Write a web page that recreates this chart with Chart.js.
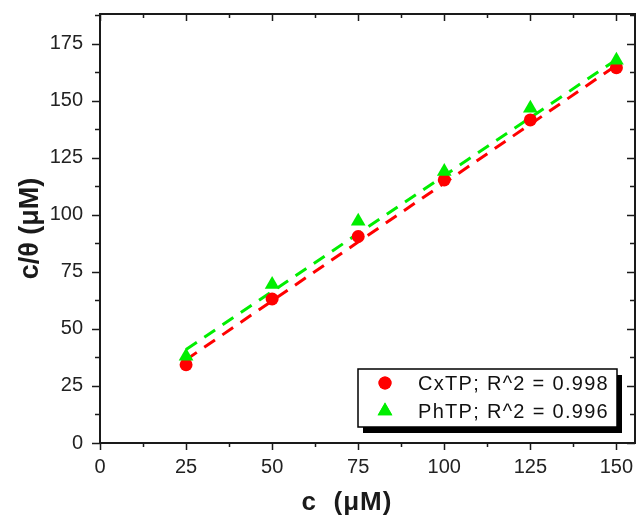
<!DOCTYPE html>
<html lang="en">
<head>
  <meta charset="UTF-8">
  <title>c/θ vs c</title>
  <script src="https://cdn.jsdelivr.net/npm/chart.js"></script>
  <style>
    html, body { margin: 0; padding: 0; background: #fff; }
    canvas { display: block; }
  </style>
</head>
<body>
  <canvas id="grafico" width="636" height="517"></canvas>

  <script>
    // valores
    const concentracoes = [25, 50, 75, 100, 125, 150];
    const cxtpValores = [34.3, 63.1, 90.5, 115.3, 141.6, 164.5];
    const phtpValores = [38, 69.5, 97.2, 119, 146.7, 167.7];

    // retas de ajuste (extremos)
    const ajusteX = [25, 150];
    const cxtpAjuste = [36.5, 165.5];
    const phtpAjuste = [41, 168];

    const nomesSeries = ['CxTP; R^2 = 0.998', 'PhTP; R^2 = 0.996'];
    const ticksX = [0, 25, 50, 75, 100, 125, 150];
    const ticksY = [0, 25, 50, 75, 100, 125, 150, 175];
    const tituloX = 'c  (\u03bcM)';
    const tituloY = 'c/\u03b8 (\u03bcM)';

    const VERMELHO = '#ff0000';
    const VERDE = '#00ee00';
    const PRETO = '#1a1a1a';

    const pares = (xs, ys) => xs.map((x, i) => ({ x: x, y: ys[i] }));

    // zera o padding que o Chart.js reserva para os rótulos
    const semPadding = s => {
      s.paddingTop = 0; s.paddingBottom = 0;
      s.paddingLeft = 0; s.paddingRight = 0;
    };

    // moldura, ticks maiores/menores nos quatro lados
    const molduraPlugin = {
      id: 'moldura',
      beforeDatasetsDraw(chart) {
        const { ctx, chartArea: a, scales } = chart;
        const sx = scales.x, sy = scales.y;
        ctx.save();
        ctx.strokeStyle = PRETO;
        ctx.lineWidth = 1.5;
        ctx.beginPath();
        for (let v = 0; v <= 150; v += 12.5) {
          const px = Math.round(sx.getPixelForValue(v)) + 0.5;
          const maior = v % 25 === 0;
          const l = maior ? 7 : 4;
          ctx.moveTo(px, a.bottom); ctx.lineTo(px, a.bottom + l);
          ctx.moveTo(px, a.top); ctx.lineTo(px, a.top + l);
        }
        for (let v = 0; v <= 187.5; v += 12.5) {
          const py = Math.round(sy.getPixelForValue(v)) + 0.5;
          const maior = v % 25 === 0;
          const l = maior ? 8 : 5;
          ctx.moveTo(a.left, py); ctx.lineTo(a.left - l, py);
          ctx.moveTo(a.right, py); ctx.lineTo(a.right - l, py);
        }
        ctx.stroke();
        ctx.lineWidth = 2;
        ctx.strokeRect(a.left, a.top, a.right - a.left, a.bottom - a.top);

        // título do eixo x
        ctx.fillStyle = PRETO;
        ctx.font = 'bold 26px "Liberation Sans", Arial, sans-serif';
        ctx.letterSpacing = '1px';
        ctx.textAlign = 'center';
        ctx.textBaseline = 'middle';
        ctx.fillText(tituloX, 347, 503);
        ctx.restore();
      },
      afterDraw(chart) {
        // legenda dentro da área do gráfico
        const { ctx } = chart;
        const bx = 358, by = 369, bw = 259, bh = 58;
        ctx.save();
        ctx.fillStyle = '#000';
        ctx.fillRect(bx + 5, by + 6, bw, bh);
        ctx.fillStyle = '#fff';
        ctx.fillRect(bx, by, bw, bh);
        ctx.strokeStyle = '#000';
        ctx.lineWidth = 1.5;
        ctx.strokeRect(bx, by, bw, bh);

        const linhas = [
          { y: 383, cor: VERMELHO, estilo: 'circle', r: 6.5, texto: chart.data.datasets[0].label },
          { y: 411, cor: VERDE, estilo: 'triangle', r: 8.5, texto: chart.data.datasets[1].label }
        ];
        linhas.forEach(l => {
          ctx.fillStyle = l.cor;
          Chart.helpers.drawPoint(ctx, { pointStyle: l.estilo, radius: l.r, borderWidth: 0 }, 385, l.y);
          ctx.fill();
          ctx.fillStyle = '#111';
          ctx.font = '20px "Liberation Sans", Arial, sans-serif';
          ctx.letterSpacing = '1.3px';
          ctx.textAlign = 'left';
          ctx.textBaseline = 'middle';
          ctx.fillText(l.texto, 418, l.y + 1);
        });
        ctx.restore();
      }
    };

    const fonteTicks = { family: '"Liberation Sans", Arial, sans-serif', size: 20 };

    new Chart(document.getElementById('grafico'), {
      type: 'scatter',
      data: {
        datasets: [
          {
            label: nomesSeries[0],
            data: pares(concentracoes, cxtpValores),
            pointStyle: 'circle',
            pointRadius: 6.5,
            pointBackgroundColor: VERMELHO,
            pointBorderWidth: 0,
            showLine: false,
            order: 1
          },
          {
            label: nomesSeries[1],
            data: pares(concentracoes, phtpValores),
            pointStyle: 'triangle',
            pointRadius: 8.5,
            pointBackgroundColor: VERDE,
            pointBorderWidth: 0,
            showLine: false,
            order: 0
          },
          {
            label: 'ajuste CxTP',
            data: pares(ajusteX, cxtpAjuste),
            showLine: true,
            borderColor: VERMELHO,
            borderWidth: 3,
            borderDash: [13, 9],
            pointRadius: 0,
            order: 3
          },
          {
            label: 'ajuste PhTP',
            data: pares(ajusteX, phtpAjuste),
            showLine: true,
            borderColor: VERDE,
            borderWidth: 3,
            borderDash: [13, 9],
            pointRadius: 0,
            order: 2
          }
        ]
      },
      options: {
        responsive: false,
        animation: false,
        devicePixelRatio: 1,
        layout: { autoPadding: false, padding: { top: 14, right: 1, left: 0, bottom: 0 } },
        plugins: {
          legend: { display: false },
          tooltip: { enabled: false }
        },
        scales: {
          x: {
            type: 'linear',
            min: 0,
            max: 155.4,
            afterBuildTicks: s => { s.ticks = ticksX.map(v => ({ value: v })); },
            afterFit: s => { s.height = 74; semPadding(s); },
            ticks: { font: fonteTicks, color: '#222', padding: 12, maxRotation: 0 },
            grid: { display: false, drawTicks: false },
            border: { display: false }
          },
          y: {
            type: 'linear',
            min: 0,
            max: 188,
            afterBuildTicks: s => { s.ticks = ticksY.map(v => ({ value: v })); },
            afterFit: s => { s.width = 100; semPadding(s); },
            ticks: { font: fonteTicks, color: '#222', padding: 17 },
            grid: { display: false, drawTicks: false },
            border: { display: false },
            title: {
              display: true,
              text: tituloY,
              color: PRETO,
              font: { family: '"Liberation Sans", Arial, sans-serif', size: 27, weight: 'bold' },
              padding: { top: 14, bottom: 0 }
            }
          }
        }
      },
      plugins: [molduraPlugin]
    });
  </script>
</body>
</html>
